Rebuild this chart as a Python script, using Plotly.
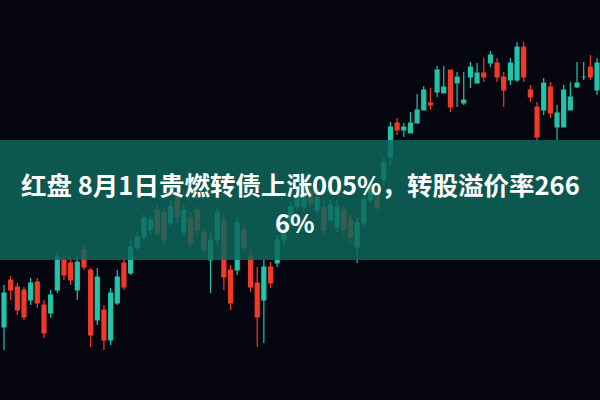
import plotly.graph_objects as go

# Candles (price = 400 - pixel row), left to right
opens = [73, 120, 113, 110, 100, 118, 95, 87, 110, 140, 137, 110, 150, 130, 80, 90, 60, 97, 137, 127,
         153, 163, 170, 190, 187, 177, 202, 168, 182, 190, 167, 140, 160, 180, 130, 130, 170, 143, 117, 100,
         133, 137, 160, 180, 193, 193, 210, 190, 193, 180, 173, 190, 180, 153, 177, 200, 207, 220, 243, 277,
         270, 267, 277, 290, 297, 308, 307, 330, 317, 297, 323, 317, 327, 337, 337, 323, 320, 320, 353, 310,
         293, 290, 313, 273, 273, 290, 313, 323, 333, 310]
closes = [107, 110, 90, 83, 117, 97, 67, 105, 143, 125, 120, 138, 133, 65, 123, 60, 107, 123, 113, 153,
          163, 182, 180, 167, 160, 193, 183, 190, 157, 170, 150, 160, 187, 123, 97, 177, 153, 113, 83, 133,
          117, 160, 170, 193, 205, 213, 197, 203, 170, 195, 193, 170, 163, 177, 200, 213, 193, 237, 273, 270,
          273, 277, 290, 310, 295, 330, 313, 293, 323, 300, 333, 327, 323, 345, 323, 310, 337, 353, 323, 303,
          263, 317, 287, 287, 310, 303, 317, 323, 323, 337]
highs = [115, 124, 117, 113, 122, 122, 100, 110, 148, 145, 142, 145, 155, 132, 132, 95, 112, 130, 142, 160,
         168, 186, 184, 195, 192, 200, 207, 195, 188, 194, 172, 168, 192, 185, 135, 182, 175, 150, 133, 140,
         138, 165, 175, 198, 208, 218, 215, 208, 200, 200, 200, 195, 185, 182, 205, 217, 212, 242, 278, 282,
         277, 288, 306, 314, 312, 334, 334, 322, 328, 328, 338, 337, 342, 349, 342, 328, 342, 358, 358, 315,
         298, 322, 318, 295, 315, 318, 338, 338, 345, 342]
lows = [50, 100, 85, 80, 95, 92, 62, 82, 107, 120, 115, 100, 130, 53, 75, 50, 55, 95, 110, 125,
        150, 160, 166, 164, 155, 174, 178, 164, 153, 165, 146, 107, 156, 110, 90, 125, 148, 108, 53, 57,
        112, 133, 155, 175, 190, 188, 192, 185, 165, 180, 168, 165, 157, 137, 173, 197, 190, 215, 235, 265,
        263, 273, 286, 293, 290, 303, 308, 288, 293, 295, 312, 323, 318, 333, 318, 293, 315, 318, 318, 298,
        255, 285, 282, 260, 285, 300, 312, 320, 320, 305]
days = list(range(len(opens)))

title_line1 = "红盘 8月1日贵燃转债上涨005%，转股溢价率266"
title_line2 = "6%"

fig = go.Figure(go.Candlestick(
    x=days, open=opens, high=highs, low=lows, close=closes,
    increasing=dict(line=dict(color="#22c4aa", width=1.2), fillcolor="#22c4aa"),
    decreasing=dict(line=dict(color="#f23a28", width=1.2), fillcolor="#f23a28"),
    whiskerwidth=0, hoverinfo="skip", showlegend=False,
))

fig.add_shape(type="rect", xref="paper", yref="paper", x0=0, x1=1, y0=0.35, y1=0.65,
              fillcolor="rgba(14,104,92,0.84)", line=dict(width=0), layer="above")

font = dict(family="Noto Sans CJK SC", size=25.5, color="white")
fig.add_annotation(text="<b>" + title_line1 + "</b>", xref="paper", yref="paper",
                   x=0.5, y=0.5425, showarrow=False, font=font, xanchor="center", yanchor="middle")
fig.add_annotation(text="<b>" + title_line2 + "</b>", xref="paper", yref="paper",
                   x=0.492, y=0.445, showarrow=False, font=font, xanchor="center", yanchor="middle")

fig.update_layout(
    width=600, height=400, margin=dict(l=0, r=0, t=0, b=0),
    paper_bgcolor="#05060f", plot_bgcolor="#05060f",
    xaxis=dict(range=[-0.6, 89.45], visible=False, rangeslider=dict(visible=False), fixedrange=True),
    yaxis=dict(range=[0, 400], visible=False, fixedrange=True),
    boxgap=0.15,
)

fig.write_html("out.html", config=dict(displayModeBar=False),
               post_script="document.body.style.margin='0';document.body.style.background='#05060f';")
